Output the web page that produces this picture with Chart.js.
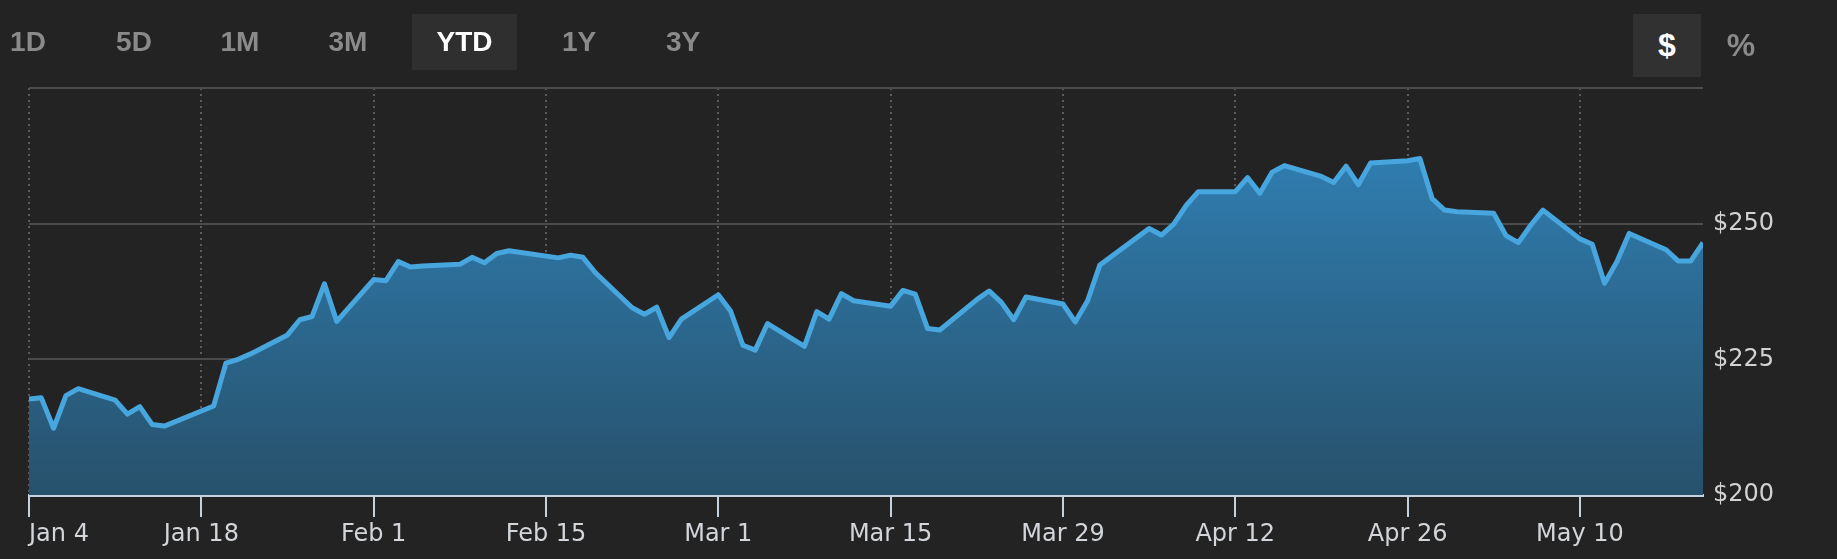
<!DOCTYPE html>
<html>
<head>
<meta charset="utf-8">
<script src="https://cdn.jsdelivr.net/npm/chart.js@4.4.0/dist/chart.umd.min.js"></script>
<style>
html,body{margin:0;padding:0;background:#232323;width:1837px;height:559px;overflow:hidden;}
#wrap{position:relative;width:1837px;height:559px;}
#c{position:absolute;left:0;top:0;}
.btn{position:absolute;top:14px;height:56px;line-height:56px;font-family:'Liberation Sans',Arial,sans-serif;font-weight:bold;font-size:28px;color:#8a8a8a;text-align:center;}
.btn.active{background:#2f2f2f;color:#ffffff;}
.unit{position:absolute;top:14px;height:63px;line-height:62px;font-family:'Liberation Sans',Arial,sans-serif;font-weight:bold;font-size:32px;color:#8a8a8a;text-align:center;}
.unit.active{background:#313131;color:#ffffff;}
</style>
</head>
<body>
<div id="wrap">
<canvas id="c" width="1837" height="559"></canvas>
<div class="btn" style="left:-12px;width:80px">1D</div>
<div class="btn" style="left:94px;width:80px">5D</div>
<div class="btn" style="left:200px;width:80px">1M</div>
<div class="btn" style="left:308px;width:80px">3M</div>
<div class="btn active" style="left:412px;width:105px">YTD</div>
<div class="btn" style="left:539px;width:80px">1Y</div>
<div class="btn" style="left:643px;width:80px">3Y</div>
<div class="unit active" style="left:1633px;width:68px">$</div>
<div class="unit" style="left:1711px;width:60px">%</div>
</div>
<script>
// ---- data ----
const tradingDays = [
 '2021-01-04','2021-01-05','2021-01-06','2021-01-07','2021-01-08','2021-01-11','2021-01-12','2021-01-13','2021-01-14','2021-01-15',
 '2021-01-19','2021-01-20','2021-01-21','2021-01-22','2021-01-25','2021-01-26','2021-01-27','2021-01-28','2021-01-29',
 '2021-02-01','2021-02-02','2021-02-03','2021-02-04','2021-02-05','2021-02-08','2021-02-09','2021-02-10','2021-02-11','2021-02-12',
 '2021-02-16','2021-02-17','2021-02-18','2021-02-19','2021-02-22','2021-02-23','2021-02-24','2021-02-25','2021-02-26',
 '2021-03-01','2021-03-02','2021-03-03','2021-03-04','2021-03-05','2021-03-08','2021-03-09','2021-03-10','2021-03-11','2021-03-12',
 '2021-03-15','2021-03-16','2021-03-17','2021-03-18','2021-03-19','2021-03-22','2021-03-23','2021-03-24','2021-03-25','2021-03-26',
 '2021-03-29','2021-03-30','2021-03-31','2021-04-01','2021-04-05','2021-04-06','2021-04-07','2021-04-08','2021-04-09',
 '2021-04-12','2021-04-13','2021-04-14','2021-04-15','2021-04-16','2021-04-19','2021-04-20','2021-04-21','2021-04-22','2021-04-23',
 '2021-04-26','2021-04-27','2021-04-28','2021-04-29','2021-04-30','2021-05-03','2021-05-04','2021-05-05','2021-05-06','2021-05-07',
 '2021-05-10','2021-05-11','2021-05-12','2021-05-13','2021-05-14','2021-05-17','2021-05-18','2021-05-19','2021-05-20'
];
const closePrices = [
 217.7,217.9,212.3,218.3,219.6,217.5,214.9,216.3,213.0,212.7,
 216.4,224.3,225.0,226.0,229.5,232.3,232.9,238.9,232.0,
 239.7,239.5,243.0,242.0,242.2,242.5,243.8,242.8,244.5,245.0,
 243.7,244.2,243.8,241.0,234.5,233.3,234.6,229.0,232.4,
 236.9,233.9,227.6,226.7,231.6,227.4,233.8,232.4,237.1,235.8,
 234.8,237.7,237.0,230.7,230.4,236.0,237.6,235.5,232.3,236.5,
 235.2,231.9,235.8,242.4,249.1,247.9,249.9,253.3,255.9,
 255.9,258.5,255.6,259.5,260.7,258.7,257.6,260.6,257.2,261.2,
 261.6,262.0,254.6,252.5,252.2,251.9,247.8,246.5,249.7,252.5,
 247.2,246.2,239.0,243.0,248.2,245.2,243.1,243.1,246.5
];
const tickDates = ['2021-01-04','2021-01-18','2021-02-01','2021-02-15','2021-03-01','2021-03-15','2021-03-29','2021-04-12','2021-04-26','2021-05-10'];
const tickLabels = ['Jan 4','Jan 18','Feb 1','Feb 15','Mar 1','Mar 15','Mar 29','Apr 12','Apr 26','May 10'];
const rangeStart = '2021-01-04';
const rangeEnd = '2021-05-20';
const yTickValues = [200,225,250,275];
const yTickLabels = ['$200','$225','$250',''];
const yMin = 200, yMax = 275;

// ---- chart ----
const DAY = 86400000;
const toDay = s => Math.round((Date.parse(s) - Date.parse(rangeStart)) / DAY);
const points = tradingDays.map((d, i) => ({x: toDay(d), y: closePrices[i]}));
const xTickValues = tickDates.map(toDay).concat([toDay(rangeEnd)]);
const lastX = xTickValues.length - 1;

new Chart(document.getElementById('c'), {
  type: 'line',
  data: {
    datasets: [{
      data: points,
      borderColor: '#48a6df',
      borderWidth: 5,
      borderJoinStyle: 'round',
      pointRadius: 0,
      tension: 0,
      fill: 'start',
      backgroundColor: (ctx) => {
        const ch = ctx.chart; const area = ch.chartArea;
        if (!area) return 'rgba(46,120,168,0.8)';
        const g = ch.ctx.createLinearGradient(0, area.top, 0, area.bottom);
        g.addColorStop(0, '#3186be');
        g.addColorStop(1, '#27516b');
        return g;
      }
    }]
  },
  options: {
    responsive: false,
    animation: false,
    devicePixelRatio: 1,
    layout: {padding: {left: 29, top: 88, right: 0, bottom: 0}},
    plugins: {legend: {display: false}, tooltip: {enabled: false}},
    scales: {
      x: {
        type: 'linear',
        min: 0,
        max: toDay(rangeEnd),
        afterBuildTicks: s => { s.ticks = xTickValues.map(v => ({value: v})); },
        afterFit: s => { s.height = 64; },
        ticks: {
          align: 'inner', autoSkip: false, maxRotation: 0, minRotation: 0,
          color: '#d2d6da', padding: 3,
          font: {family: 'DejaVu Sans', size: 24},
          callback: (v, i) => i < tickLabels.length ? tickLabels[i] : ''
        },
        grid: {
          color: ctx => ctx.index === lastX ? 'rgba(0,0,0,0)' : '#5c5c5c',
          lineWidth: 2,
          tickLength: 22,
          tickWidth: 2,
          tickColor: ctx => ctx.index === lastX ? 'rgba(0,0,0,0)' : '#c4d2df',
          tickBorderDash: []
        },
        border: {display: true, color: '#c4d2df', width: 3, dash: [2, 4]}
      },
      y: {
        position: 'right',
        min: yMin, max: yMax,
        afterBuildTicks: s => { s.ticks = yTickValues.map(v => ({value: v})); },
        afterFit: s => { s.width = 134; },
        ticks: {
          color: '#d2d2d2', padding: 10,
          font: {family: 'DejaVu Sans', size: 24},
          callback: (v, i) => yTickLabels[i]
        },
        grid: {
          drawTicks: false,
          lineWidth: 2,
          color: ctx => (ctx.tick && ctx.tick.value === yMin) ? 'rgba(0,0,0,0)' : '#4b4b4b'
        },
        border: {display: false}
      }
    }
  }
});
</script>
</body>
</html>
